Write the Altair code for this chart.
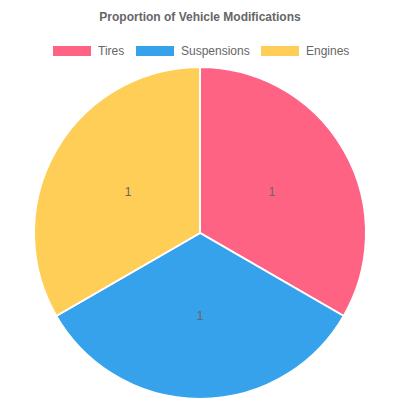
import altair as alt
import pandas as pd

categories = ["Tires", "Suspensions", "Engines"]
values = [1, 1, 1]
colors = ["#FF6384", "#36A2EB", "#FFCE56"]

df = pd.DataFrame({"category": categories, "value": values, "order": list(range(len(categories)))})

PAD_TOP = 70
CX, CY, R = 192, 155, 166

color = alt.Color(
    "category:N",
    scale=alt.Scale(domain=categories, range=colors),
    sort=categories,
    legend=alt.Legend(
        title=None,
        orient="none",
        legendX=45,
        legendY=-46,
        direction="horizontal",
        symbolType="M-1,-0.26L1,-0.26L1,0.26L-1,0.26Z",
        symbolSize=1444,
        symbolStrokeWidth=0,
        symbolOpacity=1,
        labelFont="Liberation Sans",
        labelFontSize=12,
        labelColor="#666666",
        labelOffset=7,
        columnPadding=11,
    ),
)

base = alt.Chart(df).encode(
    theta=alt.Theta("value:Q", stack=True),
    order=alt.Order("order:Q"),
)

arcs = base.mark_arc(x=CX, y=CY, outerRadius=R, stroke="white", strokeWidth=2).encode(color=color)
labels = base.mark_text(x=CX, y=CY, radius=R / 2, font="Liberation Sans", fontSize=12, color="#666666").encode(
    text="value:Q"
)

chart = (
    alt.layer(arcs, labels)
    .properties(
        width=384,
        height=322,
        autosize=alt.AutoSizeParams(type="none"),
        padding={"top": PAD_TOP, "left": 0, "right": 0, "bottom": 0},
        title=alt.Title(
            "Proportion of Vehicle Modifications",
            font="Liberation Sans",
            fontSize=12,
            fontWeight="bold",
            color="#666666",
            anchor="middle",
            offset=8,
        ),
    )
    .configure_view(stroke=None)
)

chart.save("out.html", embed_options={"renderer": "svg", "actions": False})
